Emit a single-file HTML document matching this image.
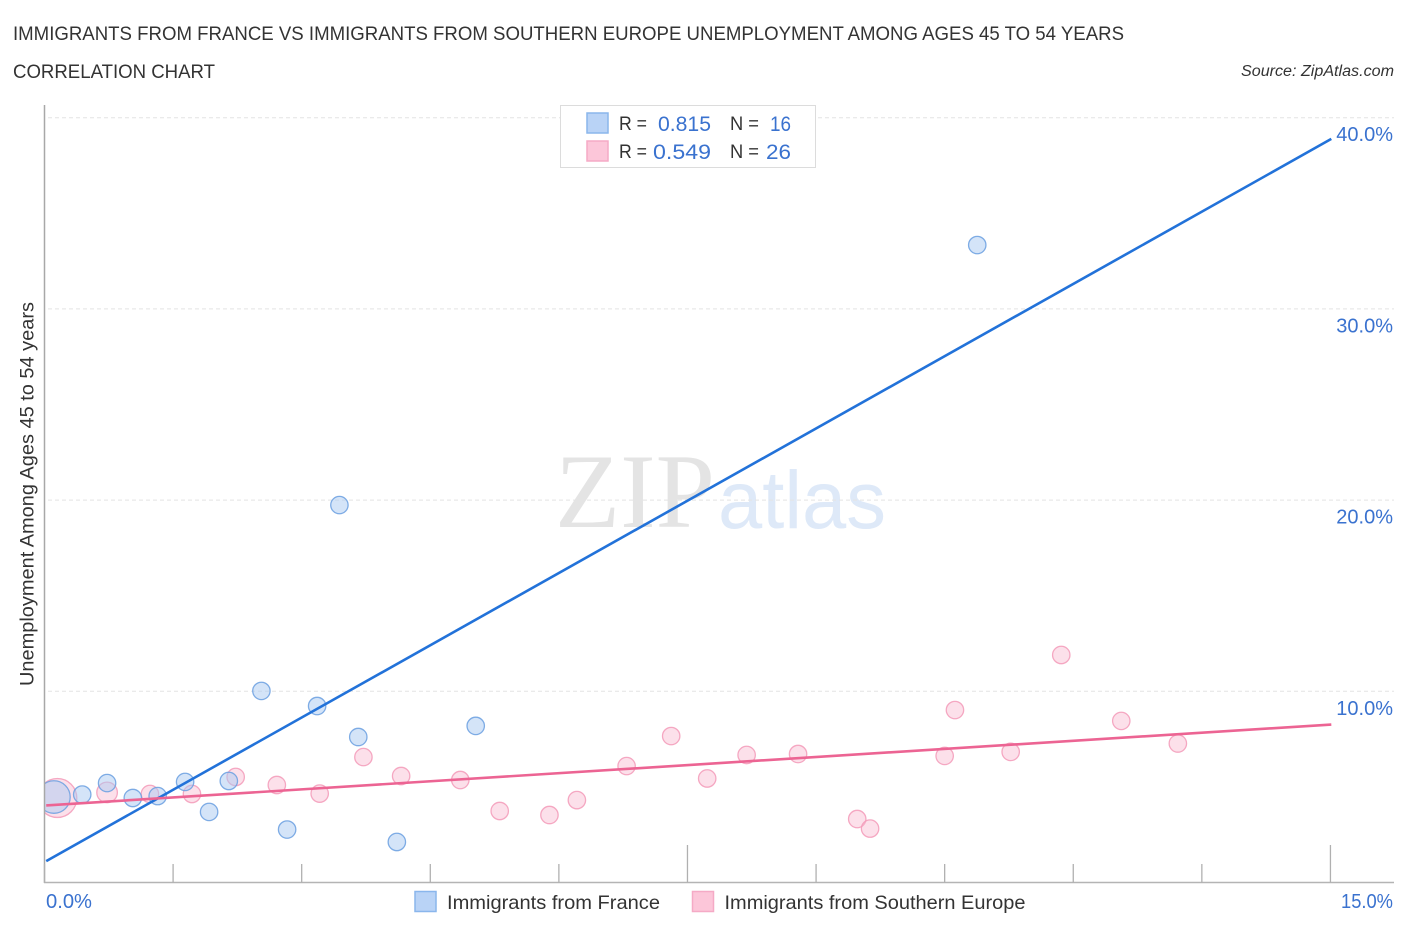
<!DOCTYPE html>
<html lang="en">
<head>
<meta charset="utf-8">
<title>Immigrants from France vs Immigrants from Southern Europe Correlation Chart</title>
<style>
html,body{margin:0;padding:0;background:#fff;width:1406px;height:930px;overflow:hidden}
svg{display:block;font-family:"Liberation Sans",sans-serif}
</style>
</head>
<body>
<svg id="chart" xmlns="http://www.w3.org/2000/svg" width="1406" height="930" viewBox="0 0 1406 930">
  <rect x="0" y="0" width="1406" height="930" fill="#fff"/>
  <text x="13" y="40" font-size="19.5" fill="#333" textLength="1111" lengthAdjust="spacingAndGlyphs">IMMIGRANTS FROM FRANCE VS IMMIGRANTS FROM SOUTHERN EUROPE UNEMPLOYMENT AMONG AGES 45 TO 54 YEARS</text>
  <text x="13" y="78" font-size="19.5" fill="#333" textLength="202" lengthAdjust="spacingAndGlyphs">CORRELATION CHART</text>
  <text x="1241" y="76" font-size="15.5" font-style="italic" fill="#333" textLength="153" lengthAdjust="spacingAndGlyphs">Source: ZipAtlas.com</text>

  <g>
    <text x="555" y="527" font-family="'Liberation Serif',serif" font-size="106" fill="#e4e4e4" textLength="160" lengthAdjust="spacingAndGlyphs">ZIP</text>
    <text x="718" y="528" font-size="82" fill="#deE9f8" textLength="168" lengthAdjust="spacingAndGlyphs">atlas</text>
  </g>

  <g id="grid"></g>
  <g id="points"></g>
  <rect x="14" y="760" width="30.5" height="70" fill="#fff"/>
  <g id="axes"></g>
  <g id="trends"></g>
  <g id="ylabels"></g>

  <text transform="translate(33.5,686) rotate(-90)" x="0" y="0" font-size="19" fill="#333" textLength="384" lengthAdjust="spacingAndGlyphs">Unemployment Among Ages 45 to 54 years</text>

  <g>
    <rect x="560.5" y="105.5" width="255" height="62" fill="#fff" stroke="#dcdcdc" stroke-width="1"/>
    <rect x="587" y="113" width="21" height="20" fill="#b9d3f6" stroke="#8ab6ec" stroke-width="1.5"/>
    <text x="619" y="130" font-size="19.5" fill="#333" textLength="28" lengthAdjust="spacingAndGlyphs">R =</text>
    <text x="658" y="131" font-size="21" fill="#3a72cf" textLength="53" lengthAdjust="spacingAndGlyphs">0.815</text>
    <text x="730" y="130" font-size="19.5" fill="#333" textLength="29" lengthAdjust="spacingAndGlyphs">N =</text>
    <text x="770" y="131" font-size="21" fill="#3a72cf" textLength="21" lengthAdjust="spacingAndGlyphs">16</text>
    <rect x="587" y="141" width="21" height="20" fill="#fcc6d9" stroke="#f5aac6" stroke-width="1.5"/>
    <text x="619" y="158" font-size="19.5" fill="#333" textLength="28" lengthAdjust="spacingAndGlyphs">R =</text>
    <text x="653" y="159" font-size="21" fill="#3a72cf" textLength="58" lengthAdjust="spacingAndGlyphs">0.549</text>
    <text x="730" y="158" font-size="19.5" fill="#333" textLength="29" lengthAdjust="spacingAndGlyphs">N =</text>
    <text x="766" y="159" font-size="21" fill="#3a72cf" textLength="25" lengthAdjust="spacingAndGlyphs">26</text>
  </g>

  <g>
    <rect x="415" y="891.5" width="21" height="20" fill="#b9d3f6" stroke="#8ab6ec" stroke-width="1.5"/>
    <text x="447" y="909" font-size="19.5" fill="#333" textLength="213" lengthAdjust="spacingAndGlyphs">Immigrants from France</text>
    <rect x="692.5" y="891.5" width="21" height="20" fill="#fcc6d9" stroke="#f5aac6" stroke-width="1.5"/>
    <text x="724.5" y="909" font-size="19.5" fill="#333" textLength="301" lengthAdjust="spacingAndGlyphs">Immigrants from Southern Europe</text>
  </g>
</svg>
<script>
// ----- chart data (percent values) -----
var franceX = [0.11,0.44,0.73,1.03,1.32,1.64,1.92,2.15,2.53,2.83,3.18,3.44,3.66,4.11,5.03,10.88];
var franceY = [4.47,4.60,5.20,4.42,4.52,5.26,3.69,5.31,10.02,2.77,9.23,19.74,7.61,2.12,8.19,33.34];
var franceWeight = [3.5,1,1,1,1,1,1,1,1,1,1,1,1,1,1,1];

var europeX = [0.15,0.73,1.23,1.72,2.23,2.71,3.21,3.72,4.16,4.85,5.31,5.89,6.21,6.79,7.31,7.73,8.19,8.79,9.48,9.63,10.50,10.62,11.27,11.86,12.56,13.22];
var europeY = [4.42,4.71,4.63,4.63,5.52,5.10,4.65,6.56,5.57,5.36,3.74,3.53,4.31,6.09,7.66,5.44,6.67,6.72,3.32,2.82,6.62,9.02,6.83,11.90,8.45,7.27];
var europeWeight = [5,1.4,1,1,1,1,1,1,1,1,1,1,1,1,1,1,1,1,1,1,1,1,1,1,1,1];

var trendX = [0.02,15.01];
var franceTrend = [1.12,38.89];
var europeTrend = [4.03,8.26];

var yTicks = [10,20,30,40];
var yTickLabels = ["10.0%","20.0%","30.0%","40.0%"];
var xTicks = [0,1.5,3,4.5,6,7.5,9,10.5,12,13.5,15];
var xMajorTicks = [7.5,15];
var xEndLabels = ["0.0%","15.0%"];

// ----- axis functions -----
function xScale(v){ return 44.5 + v * 85.73; }
function yScale(v){ return 882.5 - v * 19.12; }
function rScale(w){ return 8.7 * Math.sqrt(w); }

var NS = "http://www.w3.org/2000/svg";
function make(tag, attrs, parent){
  var el = document.createElementNS(NS, tag);
  for (var k in attrs) el.setAttribute(k, attrs[k]);
  parent.appendChild(el);
  return el;
}

var gridG = document.getElementById("grid");
var axesG = document.getElementById("axes");
var pointsG = document.getElementById("points");
var trendsG = document.getElementById("trends");
var ylabelsG = document.getElementById("ylabels");

yTicks.forEach(function(t, i){
  var line = make("line", {x1:48, x2:1394, y1:yScale(t), y2:yScale(t), stroke:"#e4e4e4", "stroke-width":1, "stroke-dasharray":"4 3"}, gridG);
  
  
  var lab = make("text", {x:1393, y:yScale(t) + 23.5, "text-anchor":"end", "font-size":20, fill:"#3a72cf"}, ylabelsG);
  lab.textContent = yTickLabels[i];
  
  
});

var yAxis = make("line", {x1:44.5, x2:44.5, y1:105, y2:883, stroke:"#a8a8a8", "stroke-width":1.5}, axesG);


var xAxis = make("line", {x1:44, x2:1394, y1:882.5, y2:882.5, stroke:"#b4b4b4", "stroke-width":1.5}, axesG);



xTicks.forEach(function(t){
  var top = xMajorTicks.indexOf(t) >= 0 ? 845 : 864;
  var tick = make("line", {x1:xScale(t), x2:xScale(t), y1:top, y2:882.5, stroke:"#b0b0b0", "stroke-width":1.3}, axesG);
  
  
});

var xLab0 = make("text", {x:46, y:908, "font-size":20, fill:"#3a72cf", textLength:46, lengthAdjust:"spacingAndGlyphs"}, axesG);
xLab0.textContent = xEndLabels[0];


var xLab1 = make("text", {x:1341, y:908, "font-size":20, fill:"#3a72cf", textLength:52, lengthAdjust:"spacingAndGlyphs"}, axesG);
xLab1.textContent = xEndLabels[1];



// pink series first, blue on top
europeX.forEach(function(x, i){
  var c = make("circle", {cx:xScale(x), cy:yScale(europeY[i]), r:rScale(europeWeight[i]), fill:"#f9b4cc", "fill-opacity":0.42, stroke:"#f39ab9", "stroke-opacity":0.85, "stroke-width":1.3}, pointsG);
  
  
});
franceX.forEach(function(x, i){
  var c = make("circle", {cx:xScale(x), cy:yScale(franceY[i]), r:rScale(franceWeight[i]), fill:"#a9c9f2", "fill-opacity":0.5, stroke:"#6a9fe0", "stroke-opacity":0.85, "stroke-width":1.3}, pointsG);
  
  
});

var tBlue = make("line", {x1:xScale(trendX[0]), y1:yScale(franceTrend[0]), x2:xScale(trendX[1]), y2:yScale(franceTrend[1]), stroke:"#2272d9", "stroke-width":2.6}, trendsG);


var tPink = make("line", {x1:xScale(trendX[0]), y1:yScale(europeTrend[0]), x2:xScale(trendX[1]), y2:yScale(europeTrend[1]), stroke:"#ec6493", "stroke-width":2.6}, trendsG);


</script>
</body>
</html>
